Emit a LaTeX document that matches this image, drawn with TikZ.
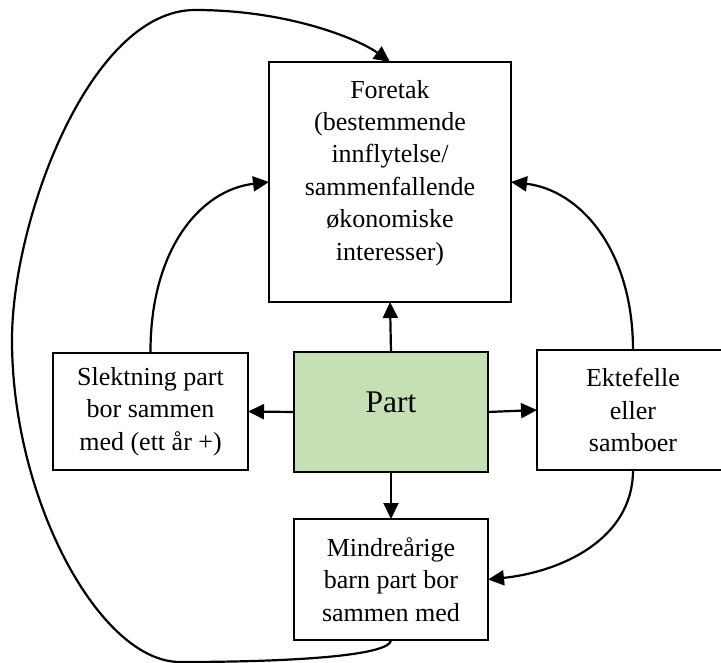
\documentclass[tikz,border=0pt]{standalone}
\usepackage{fontspec}
\setmainfont{Liberation Serif}
\usepackage{tikz}
\usetikzlibrary{arrows.meta}
\definecolor{partgreen}{RGB}{197,224,180}

\begin{document}
\begin{tikzpicture}
	[   x=1pt,y=1pt,
		box/.style={draw=black,line width=2.6pt,fill=#1,rectangle,inner sep=0pt,outer sep=0pt,align=center,font=\fontsize{26}{32.4}\selectfont},
	]
	\tikzset{normal arrow/.style={draw,line width=2.2pt,-{Triangle[length=16pt,width=15pt]}}}
	\useasboundingbox (0,0) rectangle (721,-663);
	
	\node[box=white,minimum width=242,minimum height=240,text depth=24pt] (f) at (390,-182) {Foretak\\(bestemmende\\innflytelse/\\sammenfallende\\økonomiske\\interesser)};
	\node[box=partgreen,minimum width=194,minimum height=120,text depth=20pt,font=\fontsize{31.5}{38}\selectfont] (p) at (391,-412) {Part};
	
	\node[box=white,minimum width=195,minimum height=117] (k-1) at (150.5,-411.5) {Slektning part\\bor sammen\\med (ett år +)};
	\node[box=white,minimum width=192,minimum height=120] (k-2) at (633,-410) {Ektefelle\\eller\\samboer};
	\node[box=white,minimum width=194,minimum height=121] (k-3) at (391,-579.5) {Mindreårige\\barn part bor\\sammen med};
	
	\path[normal arrow] (p.north) -- (f.south);
	\path[normal arrow] (p.west) -- (k-1.east);
	\path[normal arrow] (p.east) -- (k-2.west);
	\path[normal arrow] (p.south) -- (k-3.north);
	
	\path[normal arrow] (k-1.north) .. controls (150,-250) and (200,-190) .. (f.west);
	\path[normal arrow] (k-2.north) .. controls (633,-250) and (580,-190) .. (f.east);
	\path[normal arrow] (k-2.south) .. controls (633,-540) and (560,-572) .. (k-3.east);
	
	%outer loop
	\path[normal arrow] (k-3.south) .. controls (391,-655) and (300,-662) .. (180,-662)
		.. controls (100,-662) and (12,-500) .. (12,-340)
		.. controls (12,-220) and (90,-10) .. (195,-10)
		.. controls (290,-10) and (360,-40) .. (f.north);

\end{tikzpicture}
\end{document}
